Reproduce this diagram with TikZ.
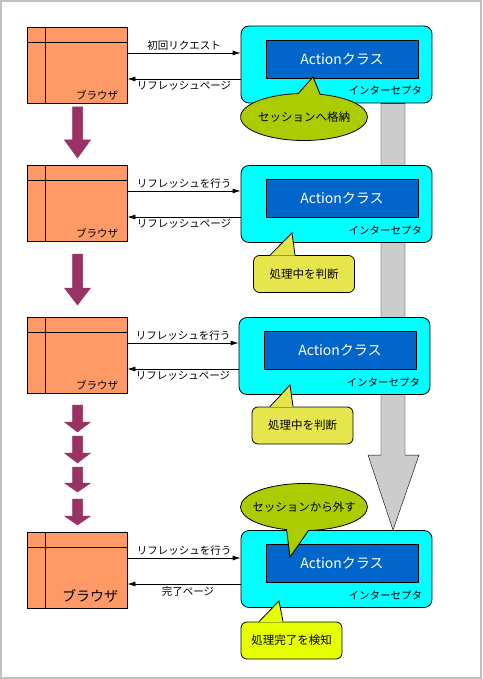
\documentclass[tikz,border=0pt]{standalone}
\usepackage{fontspec}
\setmainfont{Noto Sans CJK JP}
\usetikzlibrary{arrows.meta,positioning,shapes.callouts,backgrounds}
\definecolor{brfill}{HTML}{FF9966}
\definecolor{icfill}{HTML}{00FFFF}
\definecolor{acfill}{HTML}{0066CC}
\definecolor{arrpurple}{HTML}{993366}
\definecolor{bargray}{HTML}{CCCCCC}
\definecolor{talkgreen}{HTML}{AACC00}
\definecolor{talkyellow}{HTML}{E6E64C}
\definecolor{talklime}{HTML}{E6FF00}
\definecolor{framegray}{HTML}{C0C0C0}

\begin{document}
\begin{tikzpicture}[x=1pt, y=-1pt, line width=0.8pt, font=\fontsize{10.5}{12}\selectfont,
  browser/.style={draw, fill=brfill, minimum width=100pt, minimum height=76pt, inner sep=0pt,
    path picture={\draw ([xshift=18pt]path picture bounding box.north west) -- ([xshift=18pt]path picture bounding box.south west);
      \draw ([yshift=-15pt]path picture bounding box.north west) -- ([yshift=-15pt]path picture bounding box.north east);}},
  icbox/.style={draw, fill=icfill, rounded corners=8pt, minimum width=191pt, minimum height=77pt, inner sep=0pt},
  acbox/.style={draw, fill=acfill, text=white, minimum width=152pt, minimum height=38pt, inner sep=0pt, font=\fontsize{14}{16}\selectfont},
  tag/.style={inner sep=0pt, anchor=east},
  arr/.style={-{Latex[length=8pt,width=5pt]}},
  talk/.style={draw, ellipse callout, fill=talkgreen, minimum width=127pt, minimum height=47pt, inner sep=0pt, callout pointer arc=20},
  note/.style={draw, rounded corners=6pt, minimum width=101pt, minimum height=37pt, inner sep=0pt},
  saying/.style={inner sep=0pt, font=\fontsize{11.5}{13}\selectfont},
  parrow/.style={draw=arrpurple, fill=arrpurple, line width=0.5pt},
  bar/.style={draw, fill=bargray}]
\useasboundingbox (0,0) rectangle (482,679);
\draw[framegray, line width=2pt] (1,1) rectangle (481,678);

% row 1
\node[browser] (br1) at (77,65) {};
\node[tag] (bt1) at ([xshift=-9pt,yshift=8pt]br1.south east) {ブラウザ};
\node[icbox] (ic1) at (336.5,64.5) {};
\node[acbox] (ac1) at ([xshift=5.5pt,yshift=5.5pt]ic1.center) {Actionクラス};
\node[tag] (it1) at ([xshift=-10pt,yshift=13pt]ic1.south east) {インターセプタ};
\draw[arr] ([yshift=12pt]br1.east) -- ([yshift=12pt]br1.east -| ic1.west) node[midway, above, inner sep=2pt] (l1a) {初回リクエスト};
\draw[arr] ([yshift=-14pt]br1.east -| ic1.west) -- ([yshift=-14pt]br1.east) node[midway, below, inner sep=2pt] (l1b) {リフレッシュページ};
\node[talk, callout absolute pointer={(313,77)}] (s1) at (304,117) {};
\node[saying] (s1t) at (s1.center) {セッションへ格納};

% row 2
\node[browser] (br2) at (77,203) {};
\node[tag] (bt2) at ([xshift=-9pt,yshift=8pt]br2.south east) {ブラウザ};
\node[icbox] (ic2) at (336.5,204) {};
\node[acbox] (ac2) at ([xshift=5.5pt,yshift=5.5pt]ic2.center) {Actionクラス};
\node[tag] (it2) at ([xshift=-10pt,yshift=13pt]ic2.south east) {インターセプタ};
\draw[arr] ([yshift=12pt]br2.east) -- ([yshift=12pt]br2.east -| ic2.west) node[midway, above, inner sep=2pt] (l2a) {リフレッシュを行う};
\draw[arr] ([yshift=-14pt]br2.east -| ic2.west) -- ([yshift=-14pt]br2.east) node[midway, below, inner sep=2pt] (l2b) {リフレッシュページ};
\node[note, fill=talkyellow] (n2) at (304,274) {};
\coordinate (p2) at (292,233);
\fill[talkyellow] ([xshift=-34pt,yshift=-0.6pt]n2.north) -- (p2) -- ([xshift=-9pt,yshift=-0.6pt]n2.north) -- cycle;
\draw ([xshift=-34pt]n2.north) -- (p2) -- ([xshift=-9pt]n2.north);
\node[saying] (n2t) at (n2.center) {処理中を判断};

% row 3
\node[browser] (br3) at (77,355) {};
\node[tag] (bt3) at ([xshift=-9pt,yshift=8pt]br3.south east) {ブラウザ};
\node[icbox] (ic3) at (334.5,356) {};
\node[acbox] (ac3) at ([xshift=5.5pt,yshift=5.5pt]ic3.center) {Actionクラス};
\node[tag] (it3) at ([xshift=-10pt,yshift=13pt]ic3.south east) {インターセプタ};
\draw[arr] ([yshift=12pt]br3.east) -- ([yshift=12pt]br3.east -| ic3.west) node[midway, above, inner sep=2pt] (l3a) {リフレッシュを行う};
\draw[arr] ([yshift=-14pt]br3.east -| ic3.west) -- ([yshift=-14pt]br3.east) node[midway, below, inner sep=2pt] (l3b) {リフレッシュページ};
\node[note, fill=talkyellow] (n3) at (302.5,425.5) {};
\coordinate (p3) at (290,385);
\fill[talkyellow] ([xshift=-32.5pt,yshift=-0.6pt]n3.north) -- (p3) -- ([xshift=-9.5pt,yshift=-0.6pt]n3.north) -- cycle;
\draw ([xshift=-32.5pt]n3.north) -- (p3) -- ([xshift=-9.5pt]n3.north);
\node[saying] (n3t) at (n3.center) {処理中を判断};

% row 4
\node[browser] (br4) at (77,570) {};
\node[tag, font=\fontsize{14}{16}\selectfont] (bt4) at ([xshift=-9pt,yshift=12pt]br4.south east) {ブラウザ};
\node[icbox] (ic4) at (336.5,569) {};
\node[acbox] (ac4) at ([xshift=5.5pt,yshift=5.5pt]ic4.center) {Actionクラス};
\node[tag] (it4) at ([xshift=-10pt,yshift=13pt]ic4.south east) {インターセプタ};
\draw[arr] ([yshift=12pt]br4.east) -- ([yshift=12pt]br4.east -| ic4.west) node[midway, above, inner sep=2pt] (l4a) {リフレッシュを行う};
\draw[arr] ([yshift=-14pt]br4.east -| ic4.west) -- ([yshift=-14pt]br4.east) node[midway, below, inner sep=2pt, xshift=4pt] (l4b) {完了ページ};
\node[talk, callout absolute pointer={(290,557)}] (s4) at (304,507) {};
\node[saying] (s4t) at (s4.center) {セッションから外す};
\node[note, fill=talklime] (n4) at (291.5,640.5) {};
\coordinate (p4) at (279,601);
\fill[talklime] ([xshift=-32.5pt,yshift=-0.6pt]n4.north) -- (p4) -- ([xshift=-8.5pt,yshift=-0.6pt]n4.north) -- cycle;
\draw ([xshift=-32.5pt]n4.north) -- (p4) -- ([xshift=-8.5pt]n4.north);
\node[saying] (n4t) at (n4.center) {処理完了を検知};

% purple steps between the browsers
\foreach \t/\h/\e in {107/140/158, 254/288/305, 405/422/432, 436/453/463, 467/483/492, 499/516/525}
  \draw[parrow] (72.5,\t) -- (72.5,\h) -- (64.5,\h) -- (77.5,\e) -- (90.5,\h) -- (82.5,\h) -- (82.5,\t) -- cycle;

% gray arrow behind the interceptors
\begin{scope}[on background layer]
\draw[bar] ([xshift=44.5pt]ic1.south) -- ([shift={(44.5,-75)}]ic4.north) -- ([shift={(31.5,-75)}]ic4.north) -- ([xshift=56.5pt]ic4.north) -- ([shift={(82.5,-75)}]ic4.north) -- ([shift={(68.5,-75)}]ic4.north) -- ([xshift=68.5pt]ic1.south) -- cycle;
\end{scope}
\end{tikzpicture}
\end{document}
